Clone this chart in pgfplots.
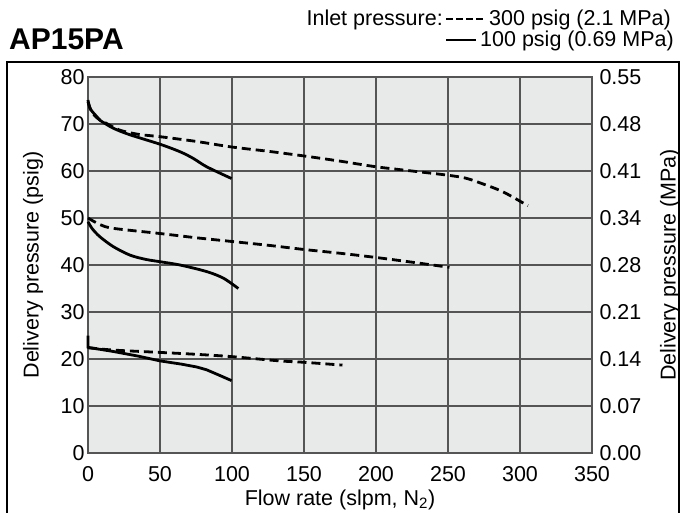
\documentclass[border=0pt]{standalone}
\usepackage{fontspec}
\setmainfont{Liberation Sans}
\usepackage{pgfplots}
\usepackage{pgfplotstable}
\pgfplotsset{compat=1.18}
\definecolor{gridgray}{HTML}{555555}
\definecolor{plotbg}{HTML}{E8E9E9}

% 300 psig inlet (dashed)
\pgfplotstableread{
x y
0 74.7
2 73.0
4.2 71.9
8 70.9
13 70.1
22 68.7
35 67.8
50 67.3
75 66.3
100 65.1
125 64.2
150 63.2
175 62.1
200 60.9
225 60.0
250 59.1
262 58.5
272 57.5
288 55.6
305.5 52.6
}\dashhigh
\pgfplotstableread{
x y
0 50.0
8.3 48.6
17.6 47.8
50 46.7
75 45.8
100 45.0
125 44.2
150 43.3
175 42.5
200 41.6
225 40.6
251 39.5
}\dashmid
\pgfplotstableread{
x y
0 22.4
17.6 21.9
50 21.4
75 21.0
100 20.5
133 19.6
150 19.3
176.7 18.7
}\dashlow

% 100 psig inlet (solid)
\pgfplotstableread{
x y
0 75.1
1.4 73.3
6 71.6
8.3 70.8
17.6 69.1
29.2 67.7
50 65.7
63.9 64.1
73 62.7
82.4 60.9
99.7 58.4
}\solidhigh
\pgfplotstableread{
x y
0 49.2
3 47.7
8.3 46.0
17.6 43.9
29.2 42.1
40 41.2
50 40.7
63.9 40.0
82.4 38.6
94 37.2
104.4 35.0
}\solidmid
\pgfplotstableread{
x y
0 25.0
0 22.5
1.4 22.4
17.6 21.6
35 20.6
50 19.6
65 18.9
75.5 18.3
82.4 17.7
90 16.7
99.7 15.4
}\solidlow

\begin{document}
\begin{tikzpicture}[x=1pt,y=1pt,font=\fontsize{21.5}{24}\selectfont]
\useasboundingbox (0,0) rectangle (682,513);
\draw[line width=1.5pt] (7,-3) rectangle (679,451);

\node[anchor=west, inner sep=0pt, font=\fontsize{30}{32}\selectfont\bfseries] at (9,474) {AP15PA};
\node[anchor=base east, inner sep=0pt] at (443,487) {Inlet pressure:};
\draw[line width=2pt, dash pattern=on 7pt off 3pt] (446,494) -- (485,494);
\node[anchor=base west, inner sep=0pt] at (489,487) {300 psig (2.1 MPa)};
\draw[line width=2pt] (446,473) -- (476,473);
\node[anchor=base west, inner sep=0pt] at (480,466.5) {100 psig (0.69 MPa)};

\begin{axis}[
  at={(88pt,60pt)}, anchor=south west,
  scale only axis, width=504pt, height=376pt,
  xmin=0, xmax=350, ymin=0, ymax=80,
  xtick={0,50,...,350}, ytick={0,10,...,80},
  xtick pos=bottom, ytick pos=left,
  grid=major,
  major grid style={gridgray, line width=1.3pt},
  axis line style={gridgray, line width=1.3pt},
  major tick length=0pt,
  axis background/.style={fill=plotbg},
  tick label style={font=\fontsize{21.5}{24}\selectfont},
  /pgf/number format/assume math mode=true,
  xticklabel style={yshift=-10pt},
  xlabel={Flow rate (slpm, N\textsubscript{2})},
  xlabel style={at={(axis description cs:0.5,0)}, anchor=center, yshift=-47pt},
  ylabel={Delivery pressure (psig)},
  ylabel style={at={(axis description cs:-0.109,0.5)}, anchor=center},
  clip=false,
]
\addplot[black, line width=2.8pt, dash pattern=on 9pt off 5pt, smooth] table[x=x,y=y] {\dashhigh};
\addplot[black, line width=2.8pt, dash pattern=on 9pt off 5pt, smooth] table[x=x,y=y] {\dashmid};
\addplot[black, line width=2.8pt, dash pattern=on 9pt off 5pt, smooth] table[x=x,y=y] {\dashlow};
\addplot[black, line width=2.8pt, smooth] table[x=x,y=y] {\solidhigh};
\addplot[black, line width=2.8pt, smooth] table[x=x,y=y] {\solidmid};
\addplot[black, line width=2.8pt] table[x=x,y=y] {\solidlow};
\end{axis}

\begin{axis}[
  at={(88pt,60pt)}, anchor=south west,
  scale only axis, width=504pt, height=376pt,
  xmin=0, xmax=350, ymin=0, ymax=80,
  axis y line*=right, axis x line=none,
  axis line style={gridgray, line width=1.3pt},
  major tick length=0pt,
  ytick={0,10,...,80},
  yticklabels={0.00,0.07,0.14,0.21,0.28,0.34,0.41,0.48,0.55},
  yticklabel style={font=\fontsize{21.5}{24}\selectfont, xshift=4pt},
  ylabel={Delivery pressure (MPa)},
  ylabel style={at={(axis description cs:1.155,0.5)}, anchor=center},
]
\end{axis}
\end{tikzpicture}
\end{document}
